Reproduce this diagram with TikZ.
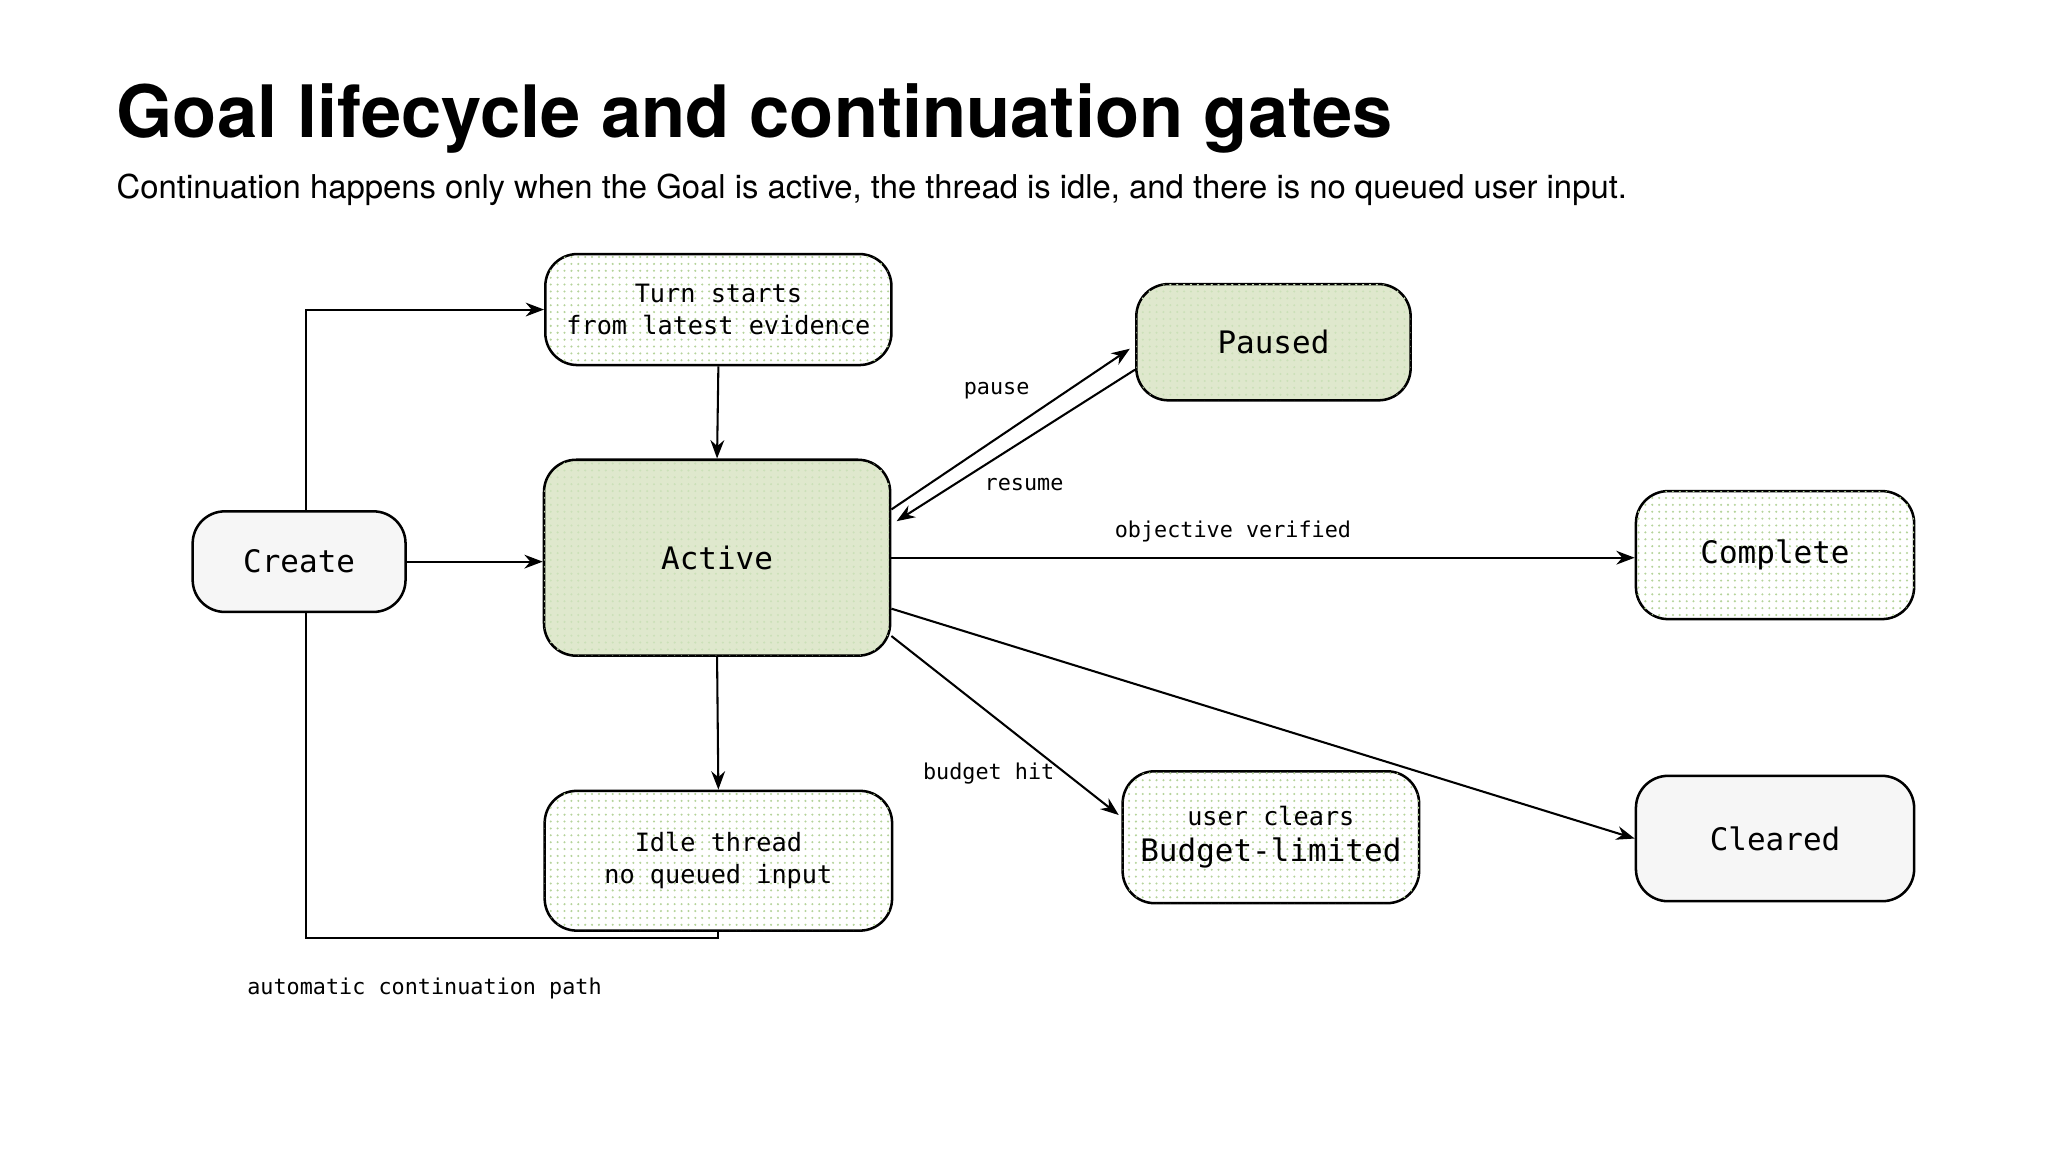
\documentclass[tikz,border=0pt]{standalone}
\usepackage{fontspec}
\setmainfont{TeX Gyre Heros}
\setmonofont{DejaVu Sans Mono}
\usetikzlibrary{positioning, arrows.meta, patterns}
\definecolor{activegreen}{HTML}{DFE8CD}
\definecolor{dotgreen}{HTML}{B5D39A}
\definecolor{softgray}{HTML}{F6F6F6}

\begin{document}
\begin{tikzpicture}[x=0.02cm, y=-0.02cm]
    % Define styles
    \tikzset{
        state/.style={rectangle, rounded corners=14pt, draw, line width=1.1pt, align=center, font=\ttfamily\fontsize{11}{14}\selectfont},
        dotted state/.style={state, fill=white, postaction={pattern=dots, pattern color=dotgreen}},
        green state/.style={state, fill=activegreen, postaction={pattern=dots, pattern color=dotgreen!70}},
        plain state/.style={state, fill=softgray},
        big/.style={font=\ttfamily\fontsize{13.5}{16}\selectfont},
        arrow/.style={line width=0.9pt, -{Stealth[length=8pt, width=6pt]}},
        edge label/.style={font=\ttfamily\fontsize{9.5}{11}\selectfont}
    }
    \useasboundingbox (0,0) rectangle (1568,882);
    \fill[white] (0,0) rectangle (1568,882);

    % Title
    \node[anchor=base west, inner sep=0pt, font=\bfseries\fontsize{31.5}{40}\selectfont] (title) at (89,105) {Goal lifecycle and continuation gates};
    \node[anchor=base west, inner sep=0pt, font=\fontsize{14.3}{16}\selectfont] (subtitle) at (89,152) {Continuation happens only when the Goal is active, the thread is idle, and there is no queued user input.};

    % States
    \node[dotted state, minimum width=265*0.02cm, minimum height=85*0.02cm] (turn) at (550,237) {Turn starts\\from latest evidence};
    \node[green state, big, minimum width=265*0.02cm, minimum height=150*0.02cm] (active) at (549,427) {Active};
    \node[plain state, big, minimum width=163*0.02cm, minimum height=77*0.02cm] (create) at (229,430) {Create};
    \node[dotted state, minimum width=266*0.02cm, minimum height=107*0.02cm] (idle) at (550,659) {Idle thread\\no queued input};
    \node[green state, big, minimum width=210*0.02cm, minimum height=89*0.02cm] (paused) at (975,262) {Paused};
    \node[dotted state, big, minimum width=213*0.02cm, minimum height=98*0.02cm] (complete) at (1359,425) {Complete};
    \node[dotted state, minimum width=227*0.02cm, minimum height=101*0.02cm] (budget) at (973,641) {user clears\\[2pt]{\fontsize{13.5}{16}\selectfont Budget-limited}};
    \node[plain state, big, minimum width=213*0.02cm, minimum height=96*0.02cm] (cleared) at (1359,642) {Cleared};

    % Arrows
    \draw[arrow] ([xshift=5*0.02cm]create.north) |- (turn.west);
    \draw[line width=0.9pt] (idle.south) -- ++(0,5) -| ([xshift=5*0.02cm]create.south);
    \draw[arrow] (turn.south) -- (active.north);
    \draw[arrow] (create.east) -- (active.west |- create.east);
    \draw[arrow] (active.south) -- (idle.north);
    \draw[arrow] ([yshift=-39*0.02cm]active.north east) -- ([xshift=-4*0.02cm, yshift=-5*0.02cm]paused.west);
    \draw[arrow] ([yshift=-21*0.02cm]paused.west) -- ([xshift=4*0.02cm, yshift=-48*0.02cm]active.north east);
    \draw[arrow] (active.east) -- (complete.west |- active.east);
    \draw[arrow] ([yshift=16*0.02cm]active.south east) -- ([xshift=-2*0.02cm, yshift=17*0.02cm]budget.west);
    \draw[arrow] ([yshift=-39*0.02cm]active.east) -- (cleared.west);

    % Labels
    \node[edge label] (pauselbl) at (763,299) {pause};
    \node[edge label] (resumelbl) at (784,371) {resume};
    \node[edge label] (verifiedlbl) at (944,407) {objective verified};
    \node[edge label] (budgetlbl) at (757,592) {budget hit};
    \node[edge label] (autolbl) at (325,757) {automatic continuation path};
\end{tikzpicture}
\end{document}
